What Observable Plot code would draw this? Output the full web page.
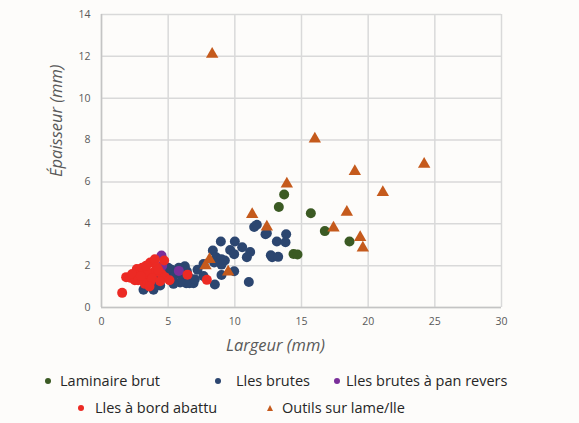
<!DOCTYPE html>
<html>
<head>
<meta charset="utf-8">
<script src="https://cdn.jsdelivr.net/npm/d3@7"></script>
<script src="https://cdn.jsdelivr.net/npm/@observablehq/plot@0.6"></script>
<style>
  html, body { margin: 0; padding: 0; background: #fdfcfa; }
  #wrap { position: relative; width: 579px; height: 423px; font-family: "Open Sans", sans-serif; }
  #legend { position: absolute; left: 0; top: 360px; width: 579px; height: 63px; }
  .li { position: absolute; font-size: 14.5px; color: #262626; line-height: 1; white-space: nowrap; transform: translateY(-50%); }
  .mk { position: absolute; transform: translate(-50%, -50%); }
</style>
</head>
<body>
<div id="wrap"><div id="chart"></div><div id="legend"></div></div>
<script>
const seriesNames = ["Laminaire brut", "Lles brutes", "Lles brutes à pan revers", "Lles à bord abattu", "Outils sur lame/lle"];
const seriesColors = ["#3b5a23", "#2c4670", "#7a2f9a", "#ec2a24", "#c55a1c"];

const laminaireX = [13.7, 13.3, 15.7, 16.75, 18.6, 14.4, 14.7];
const laminaireY = [5.4, 4.8, 4.5, 3.65, 3.15, 2.56, 2.53];

const brutesX = [11.45, 11.65, 12.3, 12.4, 13.85, 13.15, 13.8, 8.95, 10.0, 10.55, 11.15, 10.9, 12.7, 12.8, 13.25, 8.35, 9.65, 9.95, 8.6, 9.0, 9.25, 9.0, 8.45, 7.65, 7.2, 7.65, 9.0, 9.95, 11.05, 8.5, 6.25, 6.4, 6.1, 6.55, 6.9, 6.6, 6.35, 5.9, 5.4, 5.25, 5.6, 5.35, 4.4, 3.9, 3.15, 4.15, 4.8, 5.0, 4.6, 3.4, 3.7, 7.0, 5.8, 6.0];
const brutesY = [3.85, 3.95, 3.5, 3.55, 3.5, 3.15, 3.12, 3.15, 3.15, 2.88, 2.65, 2.4, 2.5, 2.4, 2.42, 2.72, 2.75, 2.55, 2.4, 2.3, 2.25, 2.05, 2.15, 2.08, 1.8, 1.5, 1.55, 1.73, 1.22, 1.1, 1.97, 1.73, 1.5, 1.44, 1.16, 1.16, 1.16, 1.2, 1.13, 1.8, 1.63, 1.44, 1.05, 0.85, 0.85, 1.3, 1.55, 1.9, 1.75, 1.05, 1.2, 1.35, 1.9, 1.6];

const panX = [4.5, 5.8, 4.55, 4.2];
const panY = [2.48, 1.75, 2.0, 1.85];

const abattuX = [1.55, 1.85, 2.15, 2.65, 2.9, 3.15, 2.5, 3.65, 4.0, 4.7, 4.15, 3.9, 3.5, 3.25, 3.65, 4.5, 4.75, 5.1, 6.45, 7.9, 2.3, 2.75, 3.05, 3.4, 3.8, 4.25, 3.35, 2.95, 4.4, 3.6];
const abattuY = [0.7, 1.45, 1.42, 1.84, 1.76, 1.53, 1.3, 2.15, 2.3, 2.25, 1.92, 1.68, 1.45, 1.13, 1.22, 1.6, 1.45, 1.3, 1.57, 1.32, 1.6, 1.3, 1.9, 1.7, 1.4, 1.8, 2.0, 1.5, 1.25, 1.0];

const outilsX = [8.3, 16.0, 24.2, 19.0, 13.9, 21.1, 18.4, 11.3, 12.4, 17.4, 19.4, 19.6, 8.1, 7.8, 9.5];
const outilsY = [12.1, 8.05, 6.85, 6.5, 5.9, 5.5, 4.55, 4.45, 3.85, 3.8, 3.35, 2.85, 2.3, 2.0, 1.7];

const xTicks = [0, 5, 10, 15, 20, 25, 30];
const yTicks = [0, 2, 4, 6, 8, 10, 12, 14];

function rows(xs, ys, s) { return xs.map((x, i) => ({x, y: ys[i], s})); }
const dotData = [
  ...rows(laminaireX, laminaireY, seriesNames[0]),
  ...rows(brutesX, brutesY, seriesNames[1]),
  ...rows(panX, panY, seriesNames[2]),
  ...rows(abattuX, abattuY, seriesNames[3])
];
const triData = rows(outilsX, outilsY, seriesNames[4]);

const gridColor = "#d9d9d9";
const labelColor = "#595959";

const chart = Plot.plot({
  width: 579,
  height: 360,
  marginLeft: 101,
  marginRight: 78,
  marginTop: 14,
  marginBottom: 53,
  style: { background: "transparent", fontFamily: "'Open Sans', sans-serif", color: labelColor },
  x: { domain: [0, 30], ticks: xTicks, label: null },
  y: { domain: [0, 14], ticks: yTicks, label: null },
  color: { domain: seriesNames, range: seriesColors },
  marks: [
    Plot.gridX(xTicks, { stroke: gridColor, strokeOpacity: 1, strokeWidth: 1.5 }),
    Plot.gridY(yTicks, { stroke: gridColor, strokeOpacity: 1, strokeWidth: 1.5 }),
    Plot.ruleX([0], { stroke: "#c4c4c4", strokeWidth: 1.5 }),
    Plot.ruleY([0], { stroke: "#c4c4c4", strokeWidth: 1.5 }),
    Plot.axisX(xTicks, { tickSize: 0, tickPadding: 10, fontSize: 10.5, fill: labelColor, label: null }),
    Plot.axisY(yTicks, { tickSize: 0, tickPadding: 11, fontSize: 10.5, fill: labelColor, label: null }),
    Plot.dot(dotData, { x: "x", y: "y", fill: "s", r: 5 }),
    Plot.dot(triData, { x: "x", y: "y", fill: "s", r: 4.6, symbol: "triangle" }),
    Plot.text(["Largeur (mm)"], { frameAnchor: "bottom", dx: -26, dy: 43, fontSize: 16.5, fontStyle: "italic", fill: labelColor }),
    Plot.text(["Épaisseur (mm)"], { frameAnchor: "left", dx: -45, dy: 16, rotate: -90, fontSize: 16.5, fontStyle: "italic", fill: labelColor })
  ]
});
document.getElementById("chart").appendChild(chart);

const legendPos = [
  { mx: 48, tx: 60, y: 21, sym: "circle" },
  { mx: 218, tx: 236, y: 21, sym: "circle" },
  { mx: 337, tx: 346, y: 21, sym: "circle" },
  { mx: 81, tx: 95, y: 48, sym: "circle" },
  { mx: 270, tx: 282, y: 48, sym: "triangle" }
];
const leg = document.getElementById("legend");
seriesNames.forEach((name, i) => {
  const p = legendPos[i];
  const m = document.createElement("div");
  m.className = "mk";
  m.style.left = p.mx + "px";
  m.style.top = p.y + "px";
  if (p.sym === "circle") {
    m.style.width = "6px"; m.style.height = "6px"; m.style.borderRadius = "50%"; m.style.background = seriesColors[i];
  } else {
    m.style.width = "0"; m.style.height = "0";
    m.style.borderLeft = "3.5px solid transparent"; m.style.borderRight = "3.5px solid transparent";
    m.style.borderBottom = "6px solid " + seriesColors[i];
  }
  leg.appendChild(m);
  const t = document.createElement("div");
  t.className = "li";
  t.style.left = p.tx + "px";
  t.style.top = p.y + "px";
  t.textContent = name;
  leg.appendChild(t);
});
</script>
</body>
</html>
